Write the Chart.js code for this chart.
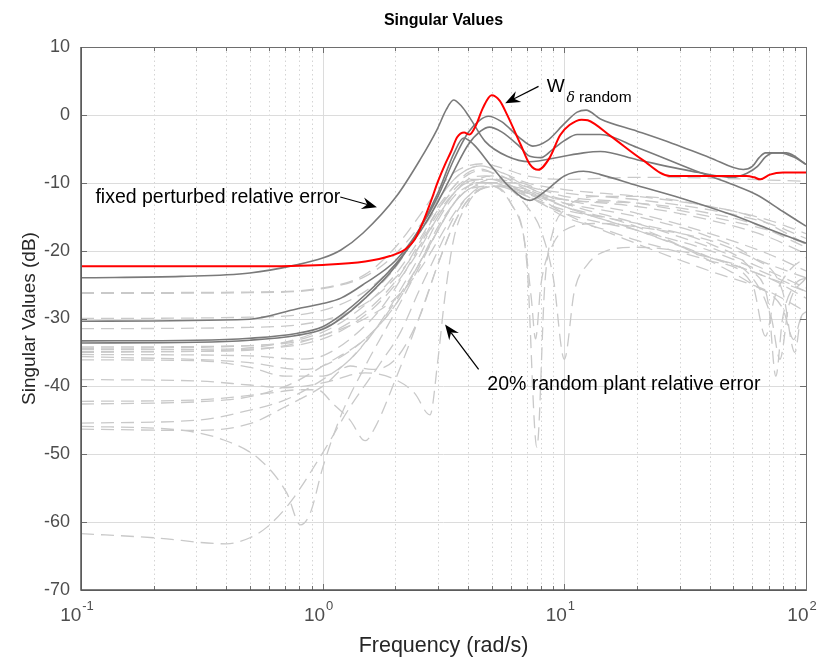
<!DOCTYPE html>
<html>
<head>
<meta charset="utf-8">
<script src="https://cdn.jsdelivr.net/npm/chart.js@4.4.0/dist/chart.umd.min.js"></script>
<style>
  html, body { margin: 0; padding: 0; background: #fff; }
  #wrap { width: 826px; height: 665px; }
</style>
</head>
<body>
<div id="wrap"><canvas id="svChart" width="826" height="665"></canvas></div>
<script>
// Axis ticks
const yTicks = [10, 0, -10, -20, -30, -40, -50, -60, -70];
const xDecades = [0.1, 1, 10, 100];
const xDecadeExp = ['-1', '0', '1', '2'];
const xMinor = [0.2, 0.3, 0.4, 0.5, 0.6, 0.7, 0.8, 0.9,
                2, 3, 4, 5, 6, 7, 8, 9,
                20, 30, 40, 50, 60, 70, 80, 90];

// Weighting bound W_delta random, [rad/s, dB]
const wRandom = [[0.1,-22.3],[0.5,-22.3],[1,-22.1],[1.5,-21.6],[1.9,-20.8],[2.2,-19.8],[2.4,-18.4],[2.6,-15.8],[2.8,-12.8],[3.0,-9.8],[3.2,-7.4],[3.4,-5.4],[3.6,-3.3],[3.85,-2.6],[4.05,-2.9],[4.3,-1.6],[4.6,1.0],[5.0,2.9],[5.4,2.1],[5.8,0.0],[6.6,-4.4],[7.2,-7.3],[7.8,-8.1],[8.7,-6.3],[9.6,-3.0],[10.5,-1.5],[11.8,-0.7],[12.5,-0.8],[15.5,-3.1],[21,-6.6],[27.3,-9.0],[56.8,-9.0],[61,-9.2],[64.6,-9.5],[70.9,-8.8],[80.4,-8.5],[100,-8.5]];

// Fixed perturbed relative error, one array per singular value
const fixedA = [[0.1,-24],[0.26,-23.8],[0.5,-23.3],[0.78,-22.1],[1,-21.1],[1.19,-19.9],[1.47,-17.4],[2.02,-12],[2.53,-6.6],[2.97,-2.2],[3.25,0.8],[3.48,2.2],[3.75,1.3],[4.06,-0.4],[4.7,-3.9],[5.8,-6.1],[7.2,-6.9],[9.6,-6.2],[12,-5.6],[14.1,-5.4],[20,-6.6],[36,-8.5],[49.6,-9.2],[57,-8.6],[63,-7.6],[68,-6.2],[73,-5.6],[83,-5.6],[100,-7.3]];
const fixedB = [[0.1,-30.4],[0.5,-30.1],[0.78,-28.6],[1,-27.8],[1.19,-27],[1.5,-24.8],[2,-21.5],[2.5,-17],[3,-12],[3.5,-6.5],[4,-2.6],[4.5,-0.7],[4.85,-0.2],[5.5,-1],[6.5,-3.3],[7.4,-4.6],[8.5,-3.8],[10,-1.3],[11.3,0.4],[12.3,0.7],[14.1,-0.6],[20,-2.4],[28,-4.2],[40,-6.3],[55,-8.05],[60,-7.6],[64,-6.3],[68,-5.6],[78,-5.6],[90,-6.3],[100,-7.3]];
const fixedC = [[0.1,-33.3],[0.3,-33.2],[0.5,-32.9],[0.78,-32.2],[1,-31.2],[1.19,-29.5],[1.5,-26.5],[2,-22],[2.5,-17.5],[3,-12.8],[3.5,-8.2],[4,-4.4],[4.5,-2.4],[4.9,-1.8],[5.5,-2.5],[6.5,-4.6],[7.2,-6.1],[8,-6.3],[9,-5],[10,-3.8],[11.3,-2.9],[14.1,-2.9],[20,-4.8],[36.4,-8.5],[50,-10.3],[62.8,-11.8],[80,-14.2],[100,-16.4]];
const fixedD = [[0.1,-33.6],[0.3,-33.5],[0.5,-33.2],[0.78,-32.5],[1,-31.6],[1.19,-30],[1.5,-27],[2,-22.3],[2.5,-17],[3,-11.5],[3.5,-5.6],[3.83,-3.4],[4.2,-4.3],[5,-7.6],[6,-10.8],[7.2,-12.6],[8.5,-11],[10,-9],[12,-8.3],[14.1,-8.8],[20,-10.4],[30,-12.2],[50,-14.8],[70,-16.8],[100,-18.9]];

// 20% random plant relative error samples
const rand01 = [[0.1,-26.2],[0.5,-26.1],[1,-25.5],[1.5,-23.5],[2,-19.5],[2.5,-15],[3,-11],[3.5,-8.5],[4,-7.5],[4.6,-7.2],[5.5,-7.8],[7,-9],[10,-9.5],[20,-9.2],[40,-9.3],[70,-9.6],[100,-9.8]];
const rand02 = [[0.1,-26.3],[0.5,-26.2],[1,-25.6],[1.5,-23.8],[2,-20.5],[2.5,-16.5],[3,-12.5],[3.5,-9.5],[4,-8],[4.5,-7.5],[5.5,-8.5],[7,-10.5],[10,-11.5],[20,-12.5],[40,-14],[70,-16],[100,-18.2]];
const rand03 = [[0.1,-30.0],[0.5,-29.8],[1,-28.8],[1.5,-26],[2,-22],[2.5,-17.5],[3,-13.5],[3.5,-10.5],[4,-8.8],[4.5,-8.2],[5.5,-9],[7,-11],[10,-12.5],[20,-13],[40,-14.5],[60,-16],[100,-19.5]];
const rand04 = [[0.1,-31.5],[0.5,-31.3],[1,-30.3],[1.5,-27.8],[2,-24],[2.5,-19.5],[3,-15],[3.5,-11.5],[4,-9.5],[4.7,-9],[6,-10.5],[8,-13],[10,-14.5],[20,-17],[40,-20],[70,-23.5],[100,-26]];
const rand05 = [[0.1,-34.4],[0.5,-34],[1,-32.5],[1.5,-29],[2,-24.5],[2.5,-19],[3,-14],[3.5,-10.5],[4,-8.5],[4.5,-8],[5,-8.5],[6,-10.5],[8,-12],[10,-12.5],[20,-13.5],[40,-15.5],[70,-18],[100,-20.5]];
const rand06 = [[0.1,-34.9],[0.4,-34.8],[0.7,-34],[1,-32.5],[1.5,-30],[2,-27],[2.5,-23],[3,-18.5],[3.5,-14.5],[4,-12],[5,-10.5],[6,-13],[7,-22],[7.7,-49],[8.3,-25],[9,-17],[10,-14],[14,-12],[20,-12],[40,-13.5],[70,-15.5],[100,-17.5]];
const rand07 = [[0.1,-35.3],[0.5,-35.5],[0.8,-36],[1,-35.5],[1.3,-33],[1.7,-29],[2,-25.5],[2.5,-19.5],[3,-14.5],[3.5,-11.5],[4,-10],[5,-10],[7,-12],[10,-14],[14,-15],[20,-16],[40,-19],[60,-23],[70,-28],[75,-38.5],[80,-30],[90,-25],[100,-24]];
const rand08 = [[0.1,-36.1],[0.3,-36.2],[0.5,-37.2],[0.7,-38.5],[1,-38.5],[1.3,-36],[1.7,-31],[2,-27],[2.5,-21],[3,-15.5],[3.5,-12],[4,-10.5],[4.5,-10],[6,-11],[8,-13],[10,-15],[15,-17],[20,-18.5],[40,-21.5],[60,-25],[68,-32.6],[74,-27],[85,-23],[100,-21]];
const rand09 = [[0.1,-34.6],[0.4,-34.5],[0.7,-33.5],[1,-31.5],[1.5,-27],[2,-22.5],[2.5,-17],[3,-12.5],[3.5,-9.5],[4,-8],[4.5,-7.5],[5.5,-8.5],[7,-10],[10,-11],[20,-12],[40,-13.5],[60,-15],[100,-19]];
const rand10 = [[0.1,-39],[0.3,-39.2],[0.5,-39.8],[0.7,-40.2],[1,-39.5],[1.5,-38],[2,-39],[2.4,-41],[2.78,-44.2],[3.0,-36],[3.2,-27],[3.5,-18],[4,-13],[4.5,-11],[5.5,-10.5],[7,-11.5],[10,-13.5],[20,-16.5],[40,-21.5],[60,-25],[80,-28.5],[89,-33.1],[95,-30],[100,-29]];
const rand11 = [[0.1,-42.2],[0.3,-42],[0.6,-41],[0.8,-40.5],[0.95,-40.5],[1.1,-42.5],[1.3,-45],[1.5,-48],[1.65,-46],[2,-39],[2.5,-30],[3,-22],[3.5,-16],[4,-12.5],[5,-10.5],[6,-10.8],[8,-12.5],[10,-14.5],[20,-19],[40,-23],[70,-26],[100,-29]];
const rand12 = [[0.1,-42.6],[0.4,-42],[0.7,-40],[0.9,-38],[1,-37],[1.5,-33],[2,-28],[2.5,-22],[3,-17],[3.5,-13],[4,-11],[5,-10],[6,-10.5],[8,-12],[10,-13.5],[20,-17],[40,-21],[70,-24],[100,-27]];
const rand13 = [[0.1,-45.4],[0.3,-45],[0.5,-43.5],[0.7,-42],[0.85,-40.5],[1,-39],[1.3,-36],[1.7,-31],[2,-27.5],[2.5,-22],[3,-17],[3.5,-13],[4,-11],[5,-9.5],[6,-9.8],[8,-11.5],[10,-12.5],[20,-14.5],[40,-17.5],[70,-20.5],[100,-23]];
const rand14 = [[0.1,-45.9],[0.25,-46.4],[0.39,-47.9],[0.55,-50.8],[0.71,-55.7],[0.81,-60.4],[0.89,-58.6],[1,-52],[1.2,-44],[1.5,-37],[2,-29],[2.5,-22.5],[3,-17],[3.5,-13],[4,-10.5],[5,-9],[6,-9.5],[8,-11],[10,-12],[20,-13],[40,-15],[70,-17],[100,-19]];
const rand15 = [[0.1,-46.3],[0.3,-46.5],[0.5,-45.5],[0.7,-43],[1,-40],[1.3,-37],[1.6,-37.5],[2,-36],[2.5,-30],[3,-22],[3.5,-16],[4,-12.5],[5,-10.5],[7,-11],[10,-13.5],[20,-17],[40,-21],[60,-24],[72,-30],[78,-36],[85,-28],[100,-24]];
const rand16 = [[0.1,-61.7],[0.2,-62.3],[0.4,-63.2],[0.5,-62.3],[0.59,-60.7],[0.73,-57.2],[1,-49.8],[1.3,-43],[1.7,-37],[2.1,-32],[2.5,-26],[3,-20],[3.5,-15],[4,-12],[5,-10],[6,-10],[8,-11.5],[10,-13],[20,-16],[40,-19.5],[70,-23],[100,-25.5]];
const rand17 = [[0.1,-35],[0.5,-34.5],[1,-33],[1.5,-29.5],[2,-25],[2.5,-20],[3,-15],[3.5,-11.5],[4,-9.8],[5,-9.5],[7,-11.5],[10,-13],[20,-15],[40,-18],[60,-21],[80,-26],[90,-35],[95,-30],[100,-29]];
const rand18 = [[0.1,-34.2],[0.5,-34],[1,-32],[1.5,-28],[2,-23.5],[2.5,-18.5],[3,-14],[3.5,-11],[4,-9.5],[5,-9.5],[6,-11],[7,-13.5],[8,-17],[9,-24],[10,-36],[11,-26],[12.5,-22],[15,-20],[20,-19.5],[40,-21],[70,-24],[100,-26]];
const rand19 = [[0.1,-35.6],[0.5,-36.5],[0.8,-37.5],[1,-37],[1.5,-33],[2,-28],[2.5,-22],[3,-16.5],[3.5,-13],[4,-11],[5,-10.5],[6,-13],[6.8,-18],[7.3,-27],[7.6,-33],[8,-25],[9,-19],[10,-17],[14,-16],[20,-16.5],[40,-18.5],[70,-22],[100,-24]];

const randomRuns = [rand01, rand02, rand03, rand04, rand05, rand06, rand07, rand08, rand09, rand10,
                    rand11, rand12, rand13, rand14, rand15, rand16, rand17, rand18, rand19];
const fixedRuns = [fixedA, fixedB, fixedC, fixedD];

const FONT = '"Liberation Sans", Arial, Helvetica, sans-serif';
const toXY = arr => arr.map(p => ({ x: p[0], y: p[1] }));

const datasets = [];
datasets.push({
    label: 'W random', data: toXY(wRandom), order: 0,
    borderColor: '#ff0000', borderWidth: 2
});
fixedRuns.forEach((run, i) => datasets.push({
    label: 'fixed ' + i, data: toXY(run), order: 1,
    borderColor: '#7a7a7a', borderWidth: 1.6
}));
randomRuns.forEach((run, i) => datasets.push({
    label: 'random ' + i, data: toXY(run), order: 2,
    borderColor: '#c9c9c9', borderWidth: 1.3, borderDash: [13, 7]
}));

// Filled arrowhead with swept-back base, like MATLAB's annotation arrows
function drawArrow(ctx, x0, y0, x1, y1) {
    const ang = Math.atan2(y1 - y0, x1 - x0);
    const len = 15, half = 6, back = 10;
    ctx.beginPath();
    ctx.moveTo(x0, y0);
    ctx.lineTo(x1 - Math.cos(ang) * back, y1 - Math.sin(ang) * back);
    ctx.stroke();
    ctx.save();
    ctx.translate(x1, y1);
    ctx.rotate(ang);
    ctx.beginPath();
    ctx.moveTo(0, 0);
    ctx.lineTo(-len, -half);
    ctx.lineTo(-back, 0);
    ctx.lineTo(-len, half);
    ctx.closePath();
    ctx.fill();
    ctx.restore();
}

const matlabAxes = {
    id: 'matlabAxes',
    beforeDatasetsDraw(chart) {
        const { ctx, chartArea: a, scales: { x, y } } = chart;
        ctx.save();
        ctx.lineWidth = 1;
        // minor x grid, dotted
        ctx.strokeStyle = '#d4d4d4';
        ctx.setLineDash([1.5, 3]);
        xMinor.forEach(v => {
            const px = Math.round(x.getPixelForValue(v)) + 0.5;
            ctx.beginPath(); ctx.moveTo(px, a.top); ctx.lineTo(px, a.bottom); ctx.stroke();
        });
        // major grid
        ctx.setLineDash([]);
        ctx.strokeStyle = '#dcdcdc';
        xDecades.forEach(v => {
            const px = Math.round(x.getPixelForValue(v)) + 0.5;
            ctx.beginPath(); ctx.moveTo(px, a.top); ctx.lineTo(px, a.bottom); ctx.stroke();
        });
        yTicks.forEach(v => {
            const py = Math.round(y.getPixelForValue(v)) + 0.5;
            ctx.beginPath(); ctx.moveTo(a.left, py); ctx.lineTo(a.right, py); ctx.stroke();
        });
        ctx.restore();
    },
    afterDraw(chart) {
        const { ctx, chartArea: a, scales: { x, y } } = chart;
        ctx.save();

        // box and tick marks
        ctx.strokeStyle = '#6e6e6e';
        ctx.lineWidth = 1;
        ctx.strokeRect(Math.round(a.left) + 0.5, Math.round(a.top) + 0.5,
                       Math.round(a.right - a.left), Math.round(a.bottom - a.top));
        const tick = 6, minorTick = 4;
        ctx.beginPath();
        yTicks.forEach(v => {
            const py = Math.round(y.getPixelForValue(v)) + 0.5;
            ctx.moveTo(a.left, py); ctx.lineTo(a.left + tick, py);
            ctx.moveTo(a.right, py); ctx.lineTo(a.right - tick, py);
        });
        xDecades.forEach(v => {
            const px = Math.round(x.getPixelForValue(v)) + 0.5;
            ctx.moveTo(px, a.bottom); ctx.lineTo(px, a.bottom - tick);
            ctx.moveTo(px, a.top); ctx.lineTo(px, a.top + tick);
        });
        xMinor.forEach(v => {
            const px = Math.round(x.getPixelForValue(v)) + 0.5;
            ctx.moveTo(px, a.bottom); ctx.lineTo(px, a.bottom - minorTick);
            ctx.moveTo(px, a.top); ctx.lineTo(px, a.top + minorTick);
        });
        ctx.stroke();
        // heavier left and bottom axis lines
        ctx.strokeStyle = '#555555';
        ctx.lineWidth = 1.5;
        ctx.beginPath();
        ctx.moveTo(a.left, a.top); ctx.lineTo(a.left, a.bottom); ctx.lineTo(a.right, a.bottom);
        ctx.stroke();

        // y tick labels
        ctx.fillStyle = '#4d4d4d';
        ctx.font = '18px ' + FONT;
        ctx.textAlign = 'right';
        ctx.textBaseline = 'middle';
        yTicks.forEach(v => ctx.fillText(String(v), a.left - 11, y.getPixelForValue(v)));

        // x tick labels 10^n
        ctx.textAlign = 'left';
        ctx.textBaseline = 'alphabetic';
        xDecades.forEach((v, i) => {
            ctx.font = '19px ' + FONT;
            const wBase = ctx.measureText('10').width;
            ctx.font = '13px ' + FONT;
            const wExp = ctx.measureText(xDecadeExp[i]).width;
            const start = x.getPixelForValue(v) - (wBase + wExp + 1) / 2 - 4;
            ctx.font = '19px ' + FONT;
            ctx.fillText('10', start, a.bottom + 31);
            ctx.font = '13px ' + FONT;
            ctx.fillText(xDecadeExp[i], start + wBase + 1, a.bottom + 20);
        });

        // title and axis labels
        const cx = (a.left + a.right) / 2;
        ctx.fillStyle = '#000000';
        ctx.textAlign = 'center';
        ctx.textBaseline = 'middle';
        ctx.font = 'bold 16px ' + FONT;
        ctx.fillText('Singular Values', cx, 21);
        ctx.fillStyle = '#262626';
        ctx.font = '21.5px ' + FONT;
        ctx.fillText('Frequency (rad/s)', cx, a.bottom + 56);
        ctx.save();
        ctx.translate(30, (a.top + a.bottom) / 2);
        ctx.rotate(-Math.PI / 2);
        ctx.font = '19px ' + FONT;
        ctx.fillText('Singular Values (dB)', 0, 0);
        ctx.restore();

        // annotations, anchored in data units
        const X = f => x.getPixelForValue(f);
        const Y = d => y.getPixelForValue(d);
        ctx.fillStyle = '#000000';
        ctx.strokeStyle = '#000000';
        ctx.lineWidth = 1.2;
        ctx.textAlign = 'left';
        ctx.font = '19.5px ' + FONT;
        ctx.fillText('fixed perturbed relative error', X(0.1147), Y(-12.2));
        drawArrow(ctx, X(1.16) + 2, Y(-12.1), X(1.677), Y(-13.6));

        ctx.fillText('20% random plant relative error', X(4.8), Y(-39.7));
        drawArrow(ctx, X(4.42), Y(-37.5), X(3.21), Y(-30.9));

        ctx.font = '19px ' + FONT;
        ctx.fillText('W', X(8.45), Y(4.2));
        const wW = ctx.measureText('W').width;
        ctx.font = 'italic 14px "DejaVu Serif", serif';
        const subX = X(8.45) + wW + 2;
        ctx.fillText('\u03B4', subX, Y(2.5));
        const dW = ctx.measureText('\u03B4').width;
        ctx.font = '15.5px ' + FONT;
        ctx.fillText('random', subX + dW + 4, Y(2.5));
        drawArrow(ctx, X(7.82), Y(4.2), X(5.69), Y(1.7));

        ctx.restore();
    }
};

new Chart(document.getElementById('svChart'), {
    type: 'line',
    data: { datasets },
    options: {
        responsive: false,
        animation: false,
        devicePixelRatio: 1,
        layout: { padding: { left: 81, right: 20, top: 47, bottom: 75 } },
        elements: {
            point: { radius: 0, hitRadius: 0 },
            line: { cubicInterpolationMode: 'monotone', fill: false }
        },
        plugins: {
            legend: { display: false },
            tooltip: { enabled: false },
            title: { display: false }
        },
        scales: {
            x: { type: 'logarithmic', min: 0.1, max: 100, display: false },
            y: { type: 'linear', min: -70, max: 10, display: false }
        }
    },
    plugins: [matlabAxes]
});
</script>
</body>
</html>
